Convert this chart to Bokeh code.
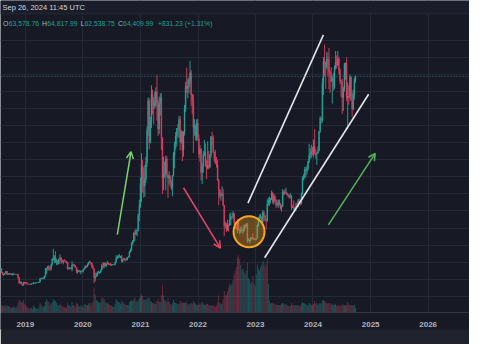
import numpy as np
import pandas as pd
from bokeh.plotting import figure
from bokeh.models import (Range1d, FixedTicker, DatetimeTickFormatter, Span, Arrow,
                          OpenHead, Label, BoxAnnotation, Grid, ColumnDataSource)
from bokeh.embed import file_html
from bokeh.resources import INLINE

# ---------------- data (weekly BTC/USD candles, prices in thousands USD) -------------
first_week = "2018-07-23"
first_open = 7.4

close_2018 = [8.2, 7.0, 6.3, 6.5, 6.7, 7.3, 6.4, 6.5, 6.7, 6.6, 6.3, 6.45, 6.4, 6.45, 6.4,
              6.4, 5.6, 4.0, 4.2, 3.6, 3.2, 4.0, 3.9, 4.05]
high_2018 = [8.5, 8.2, 7.15, 6.6, 6.9, 7.4, 7.4, 6.6, 6.8, 6.75, 6.65, 6.7, 6.9, 6.55, 6.5,
             6.55, 6.4, 5.6, 4.4, 4.3, 3.6, 4.2, 4.2, 4.1]
low_2018 = [7.3, 6.9, 6.2, 5.9, 6.3, 6.65, 6.3, 6.2, 6.2, 6.4, 6.2, 6.1, 6.35, 6.35, 6.3,
            6.35, 5.2, 3.55, 3.7, 3.4, 3.15, 3.2, 3.6, 3.7]

close_2019 = [3.6, 3.55, 3.55, 3.45, 3.65, 3.65, 3.85, 3.85, 3.95, 4.0, 4.0, 4.15, 5.2, 5.15,
              5.35, 5.2, 5.95, 8.0, 8.2, 8.75, 8.0, 7.95, 9.25, 10.8, 11.0, 11.4, 10.2, 10.5,
              9.5, 10.9, 11.3, 10.3, 10.1, 10.4, 10.35, 10.3, 10.0, 8.05, 8.2, 8.3, 7.95, 9.2,
              9.2, 8.75, 8.5, 7.3, 7.4, 7.5, 7.1, 7.3, 7.25, 7.75]
high_2019 = [4.1, 3.75, 3.65, 3.55, 3.7, 3.7, 4.2, 3.9, 3.95, 4.05, 4.1, 4.2, 5.3, 5.45, 5.4,
             5.6, 6.0, 8.3, 8.3, 8.9, 9.1, 8.1, 9.3, 11.2, 13.9, 12.0, 13.2, 11.0, 10.6, 11.0,
             12.3, 11.5, 10.9, 10.6, 10.9, 10.45, 10.3, 10.0, 8.5, 8.6, 8.4, 10.3, 9.5, 9.5,
             9.1, 8.5, 7.9, 7.65, 7.5, 7.5, 7.6, 7.8]
low_2019 = [3.5, 3.5, 3.45, 3.35, 3.35, 3.55, 3.65, 3.7, 3.7, 3.85, 3.9, 3.9, 4.1, 4.95, 5.0,
            5.0, 5.2, 5.7, 6.6, 7.5, 7.5, 7.45, 7.6, 8.95, 10.4, 9.7, 9.8, 9.1, 9.2, 9.4, 10.8,
            9.5, 9.8, 9.35, 10.2, 9.9, 9.6, 7.75, 7.9, 7.9, 7.9, 7.3, 9.0, 8.6, 8.4, 6.8, 6.6,
            7.1, 7.0, 6.4, 7.1, 6.9]

close_2020 = [8.2, 8.9, 8.6, 9.35, 9.9, 9.9, 9.7, 8.5, 8.0, 5.4, 5.8, 5.9, 6.8, 6.9, 7.1, 7.7,
              8.9, 8.7, 9.7, 8.9, 9.45, 9.75, 9.35, 9.3, 9.05, 9.3, 9.3, 9.2, 10.0, 11.1, 11.7,
              11.8, 11.65, 11.7, 10.3, 10.7, 11.1, 10.75, 10.65, 11.35, 11.5, 13.0, 13.8, 15.5,
              16.0, 18.4, 18.2, 19.1, 19.3, 23.8, 26.5, 33.0]
high_2020 = [8.45, 9.0, 8.9, 9.6, 10.1, 10.5, 10.2, 9.7, 9.2, 8.2, 6.9, 6.9, 7.3, 7.45, 7.2,
             7.8, 9.45, 10.0, 9.9, 9.9, 9.6, 10.4, 9.9, 9.6, 9.8, 9.3, 9.45, 9.3, 10.1, 12.0,
             11.9, 12.2, 12.4, 11.8, 12.1, 10.8, 11.2, 11.1, 10.95, 11.5, 11.7, 13.3, 14.0,
             15.9, 16.5, 18.8, 19.4, 19.9, 19.4, 24.2, 28.3, 34.8]
low_2020 = [7.7, 8.1, 8.3, 8.6, 9.2, 9.7, 9.3, 8.4, 8.0, 3.85, 4.4, 5.7, 5.9, 6.8, 6.5, 6.8,
            7.7, 8.1, 8.2, 8.7, 8.6, 9.3, 9.1, 9.2, 8.9, 8.9, 9.1, 9.1, 9.1, 9.9, 10.95, 11.1,
            11.3, 11.15, 9.9, 9.9, 10.6, 10.2, 10.4, 10.55, 11.2, 11.4, 12.8, 13.3, 15.0, 15.8,
            16.3, 18.0, 17.6, 19.0, 22.0, 25.9]

close_2021 = [38.2, 36.0, 32.3, 34.3, 39.2, 48.6, 57.4, 45.0, 51.2, 59.3, 57.5, 55.8, 57.1,
              59.9, 56.2, 49.0, 56.6, 58.2, 46.4, 34.7, 35.7, 35.8, 40.2, 35.6, 34.7, 35.3,
              33.5, 31.8, 35.4, 41.5, 44.6, 47.0, 49.2, 48.8, 51.8, 45.2, 48.3, 42.8, 48.2,
              54.9, 61.6, 60.9, 61.3, 63.3, 65.5, 59.0, 57.2, 49.4, 50.1, 46.7, 50.8, 46.4]
high_2021 = [41.9, 40.0, 37.8, 38.5, 40.9, 49.7, 58.3, 58.0, 52.6, 61.8, 60.6, 58.4, 60.0,
             61.2, 64.8, 57.5, 58.5, 59.5, 59.6, 46.6, 40.9, 39.5, 41.3, 41.0, 35.8, 36.6,
             35.4, 34.0, 35.4, 42.3, 45.3, 48.1, 49.3, 50.5, 52.9, 52.9, 48.8, 48.4, 48.3,
             56.1, 62.9, 67.0, 63.7, 64.3, 69.0, 66.3, 59.4, 59.2, 51.9, 50.3, 51.9, 52.0]
low_2021 = [27.7, 30.4, 28.9, 29.2, 33.3, 37.9, 47.0, 43.0, 44.9, 49.3, 53.3, 50.4, 54.9,
            55.5, 51.5, 47.0, 47.5, 53.0, 42.9, 30.0, 31.1, 34.8, 31.0, 34.8, 28.8, 32.7,
            32.1, 31.1, 29.3, 35.2, 37.5, 43.0, 43.9, 46.4, 46.5, 42.8, 44.7, 39.6, 40.9,
            47.1, 54.0, 59.6, 58.0, 59.5, 62.3, 55.7, 53.5, 42.0, 47.1, 45.7, 45.5, 45.6]

close_2022 = [41.8, 43.1, 36.3, 37.9, 41.4, 42.2, 38.4, 37.7, 38.4, 37.8, 41.3, 46.8, 46.4,
              42.2, 40.4, 39.5, 38.5, 34.1, 31.3, 29.4, 29.5, 29.9, 26.6, 20.6, 20.7, 19.3,
              20.9, 20.8, 22.6, 23.3, 23.2, 24.3, 21.5, 20.0, 19.8, 21.8, 19.4, 18.8, 19.3,
              19.1, 19.2, 20.8, 20.6, 21.2, 16.3, 16.3, 16.4, 17.1, 17.1, 16.8, 16.8, 16.6]
high_2022 = [47.5, 44.3, 43.5, 38.9, 42.6, 45.8, 44.8, 40.0, 45.4, 42.6, 41.7, 46.9, 48.2,
             47.2, 42.4, 42.9, 40.8, 40.0, 34.3, 31.3, 30.6, 32.2, 31.5, 26.8, 21.9, 21.5,
             22.4, 21.3, 24.2, 24.6, 23.6, 25.0, 24.4, 21.9, 20.5, 22.5, 22.6, 19.7, 20.4,
             20.5, 19.9, 21.0, 21.0, 21.4, 21.5, 17.0, 16.7, 17.4, 17.4, 18.4, 17.0, 16.9]
low_2022 = [40.6, 39.4, 34.0, 32.9, 36.2, 41.0, 38.0, 34.3, 37.2, 37.2, 37.6, 40.6, 44.2,
            41.9, 39.2, 38.7, 37.7, 33.8, 26.7, 28.7, 28.0, 29.3, 26.6, 17.6, 19.9, 18.8,
            19.3, 18.9, 20.7, 20.8, 22.6, 22.7, 20.8, 19.6, 19.6, 18.5, 19.3, 18.1, 18.5,
            19.1, 18.2, 18.9, 19.8, 20.1, 15.6, 16.2, 15.5, 16.0, 16.9, 16.6, 16.4, 16.4]

close_2023 = [17.1, 20.9, 22.7, 23.0, 23.3, 21.8, 24.6, 23.6, 22.4, 22.2, 26.9, 27.9, 28.2,
              28.3, 30.3, 27.6, 29.2, 28.4, 26.8, 26.8, 28.1, 27.1, 25.9, 26.3, 30.5, 30.6,
              30.2, 30.3, 29.8, 29.3, 29.0, 29.3, 26.1, 26.0, 25.8, 25.8, 26.5, 26.3, 28.0,
              27.9, 27.2, 30.0, 34.5, 35.0, 37.1, 36.6, 37.4, 39.5, 41.3, 41.9, 42.5, 42.3]
high_2023 = [17.2, 21.3, 23.3, 23.9, 24.2, 23.4, 25.2, 25.1, 23.9, 22.6, 28.4, 29.0, 29.2,
             28.8, 31.0, 30.5, 30.0, 29.8, 28.4, 27.6, 28.3, 28.4, 27.3, 26.8, 31.4, 31.0,
             31.4, 31.8, 30.4, 30.0, 29.8, 30.2, 29.7, 26.8, 28.1, 26.1, 27.4, 27.4, 28.5,
             28.6, 27.9, 30.4, 35.2, 35.9, 37.9, 37.9, 38.4, 39.7, 44.7, 43.4, 44.4, 43.8]
low_2023 = [16.5, 17.1, 20.4, 22.3, 22.6, 21.4, 21.5, 22.8, 21.9, 19.6, 21.9, 26.6, 26.5,
            27.2, 28.2, 27.1, 26.9, 27.7, 25.8, 26.3, 25.9, 26.5, 25.4, 24.8, 26.3, 29.6,
            29.8, 30.0, 29.5, 29.0, 28.6, 28.7, 25.3, 25.8, 25.3, 25.4, 24.9, 26.0, 26.1,
            27.2, 26.6, 26.9, 29.8, 33.9, 34.5, 34.8, 35.6, 36.9, 39.0, 40.2, 40.6, 41.3]

close_2024 = [43.9, 41.7, 41.6, 42.0, 42.6, 48.3, 52.1, 51.7, 62.4, 68.9, 68.4, 67.2, 69.6,
              69.4, 65.7, 64.9, 63.1, 63.9, 61.5, 66.9, 68.5, 67.8, 69.6, 66.2, 63.2, 62.7,
              58.2, 60.8, 68.2, 68.3, 58.1, 58.7, 58.4, 64.2, 57.3, 54.8, 59.1, 63.3, 64.4]
high_2024 = [45.9, 49.0, 43.2, 42.2, 43.9, 48.5, 52.8, 52.4, 64.0, 70.1, 73.8, 68.9, 71.7,
             71.3, 72.8, 66.4, 67.2, 64.7, 65.5, 67.7, 71.9, 70.6, 71.9, 70.2, 66.9, 63.4,
             63.8, 61.4, 68.4, 68.5, 70.0, 62.6, 61.8, 65.0, 64.5, 59.8, 60.6, 64.1, 64.8]
low_2024 = [40.7, 41.5, 40.3, 38.5, 41.8, 42.5, 47.9, 50.6, 50.9, 59.0, 64.6, 60.8, 66.5,
            64.5, 60.7, 59.6, 62.8, 56.5, 60.2, 60.7, 66.4, 66.7, 67.5, 65.1, 62.2, 58.4,
            53.5, 54.3, 60.0, 63.5, 57.2, 49.0, 56.1, 57.8, 57.2, 52.6, 54.6, 57.6, 62.6]

# weekly volume (thousand BTC)
volume_2018 = [260, 230, 230, 230, 200, 230, 260, 230, 200, 200, 165, 165, 230, 165, 165,
               200, 330, 460, 400, 360, 330, 430, 300, 260]
volume_2019 = [200, 165, 130, 165, 165, 130, 230, 200, 165, 130, 130, 165, 330, 260, 200,
               200, 230, 360, 460, 400, 360, 260, 300, 360, 460, 430, 400, 330, 260, 230,
               300, 260, 230, 200, 200, 165, 165, 330, 260, 230, 200, 360, 260, 230, 200,
               330, 300, 230, 200, 260, 200, 200]
volume_2020 = [260, 300, 230, 260, 300, 330, 260, 330, 360, 860, 600, 430, 400, 360, 330,
               360, 500, 530, 460, 360, 330, 330, 300, 260, 260, 230, 200, 200, 300, 460,
               400, 360, 330, 300, 400, 360, 300, 300, 260, 260, 260, 360, 400, 430, 400,
               460, 530, 400, 360, 430, 500, 560]
volume_2021 = [630, 560, 460, 430, 430, 500, 460, 530, 400, 360, 330, 330, 300, 300, 400,
               460, 360, 360, 600, 960, 600, 430, 400, 360, 500, 360, 300, 260, 330, 430,
               360, 330, 300, 300, 300, 400, 330, 360, 330, 330, 360, 330, 300, 260, 300,
               330, 300, 400, 330, 300, 260, 260]
volume_2022 = [300, 260, 330, 360, 300, 260, 260, 300, 300, 260, 230, 230, 260, 230, 230,
               200, 230, 360, 600, 330, 300, 300, 460, 730, 600, 600, 730, 860, 990, 920,
               990, 1120, 1320, 1450, 1580, 1910, 1980, 1850, 1650, 1450, 1520, 1390, 1320,
               1450, 1720, 1190, 1120, 990, 1060, 1250, 990, 920]
volume_2023 = [1320, 1650, 1520, 1450, 1580, 1650, 1780, 1720, 1580, 1650, 1820, 990, 400,
               300, 330, 330, 300, 260, 300, 260, 260, 260, 260, 300, 330, 300, 260, 300,
               260, 230, 230, 230, 330, 260, 260, 230, 260, 230, 260, 230, 230, 300, 360,
               330, 300, 300, 260, 260, 330, 300, 260, 260]
volume_2024 = [300, 400, 300, 330, 260, 300, 330, 300, 400, 430, 400, 360, 330, 300, 330,
               330, 260, 300, 260, 260, 300, 230, 230, 260, 230, 230, 300, 260, 260, 230,
               260, 360, 260, 260, 260, 260, 230, 260, 165]

year_ticks = [2019, 2020, 2021, 2022, 2023, 2024, 2025, 2026]
price_grid = [0, 5, 10, 15, 20, 25, 30, 35, 40, 45, 50, 55, 60, 65, 70, 75]
last_price = 64.40999

header_time = "Sep 26, 2024 11:45 UTC"
ohlc_letters = ["O", "H", "L", "C"]
ohlc_values = ["63,578.76", "64,817.99", "62,538.75", "64,409.99"]
change_text = "+831.23 (+1.31%)"

# hand-drawn annotations: (date, price in k USD)
arrow_up_1 = ("2020-08-07", 18.1, "2020-11-02", 42.4)
arrow_down = ("2021-10-01", 31.8, "2022-05-23", 14.1)
circle_mark = ("2022-11-21", 18.9)
channel_upper = ("2022-11-14", 27.3, "2024-03-07", 76.6)
channel_lower = ("2023-02-28", 11.3, "2024-12-19", 59.2)
arrow_up_2 = ("2024-04-08", 20.9, "2025-01-30", 41.9)

# ---------------- assemble -------------------------------------------------------
close = close_2018 + close_2019 + close_2020 + close_2021 + close_2022 + close_2023 + close_2024
high = high_2018 + high_2019 + high_2020 + high_2021 + high_2022 + high_2023 + high_2024
low = low_2018 + low_2019 + low_2020 + low_2021 + low_2022 + low_2023 + low_2024
volume = (volume_2018 + volume_2019 + volume_2020 + volume_2021 + volume_2022
          + volume_2023 + volume_2024)
opens = [first_open] + close[:-1]

weeks = pd.date_range(first_week, periods=len(close), freq="7D")
centers = weeks + pd.Timedelta(hours=84)

GREEN = "#26a69a"
RED = "#de3f62"
up = [c >= o for o, c in zip(opens, close)]
src = ColumnDataSource(dict(
    x=centers,
    top=[max(o, c) for o, c in zip(opens, close)],
    bottom=[min(o, c) for o, c in zip(opens, close)],
    high=high, low=low, vol=volume,
    color=[GREEN if u else RED for u in up],
))

def ms(d):
    return pd.Timestamp(d).value / 1e6

# layout geometry
W, H = 469, 344
FRAME_H = 312
sx, sy = W / 485.0, H / 360.0
ms_per_year = 365.25 * 86400000.0
x2019 = 25.7 * sx
ppy = 59.5 * sx
t2019 = ms("2019-01-01")
x_start = t2019 - x2019 / ppy * ms_per_year
x_end = t2019 + (W - x2019) / ppy * ms_per_year
P_top = 309.5 / 3.57
P_bot = (309.5 - FRAME_H / sy) / 3.57
V_top = FRAME_H * 33 / sy

def fx2ms(fx):
    return x_start + fx / W * (x_end - x_start)

def fy2p(fy):
    return P_top - fy / FRAME_H * (P_top - P_bot)

BG = "#171a25"
p = figure(width=W, height=H, x_axis_type="datetime", y_axis_location=None,
           x_range=Range1d(x_start, x_end), y_range=Range1d(P_bot, P_top),
           output_backend="svg", toolbar_location=None,
           min_border_left=0, min_border_right=0, min_border_top=0, min_border_bottom=H - FRAME_H,
           background_fill_color=BG, border_fill_color="#20232e")
p.outline_line_color = None
p.extra_y_ranges = {"vol": Range1d(0, V_top)}

# grid
GRID = "#252935"
p.xaxis.ticker = FixedTicker(ticks=[ms(f"{y}-01-01") for y in year_ticks])
p.xgrid.grid_line_color = GRID
for g in p.ygrid:
    g.visible = False
p.add_layout(Grid(dimension=1, ticker=FixedTicker(ticks=price_grid), grid_line_color=GRID))

fmt = "%Y"
p.xaxis.formatter = DatetimeTickFormatter(years=fmt, months=fmt, days=fmt, hours=fmt,
                                          hourmin=fmt, minutes=fmt, minsec=fmt, seconds=fmt,
                                          milliseconds=fmt, microseconds=fmt)
p.xaxis.axis_line_color = None
p.xaxis.major_tick_line_color = None
p.xaxis.minor_tick_line_color = None
p.xaxis.major_label_text_font_size = "8px"
p.xaxis.major_label_text_font = "Liberation Sans"
p.xaxis.major_label_text_font_style = "bold"
p.xaxis.major_label_text_color = "#b2b5be"
p.xaxis.major_label_standoff = 3
p.xaxis.background_fill_color = BG

# header band
p.add_layout(BoxAnnotation(bottom=fy2p(13.4), fill_color="#1b1e2a", fill_alpha=1.0,
                           line_color=None))
p.add_layout(Span(location=fy2p(13.4), dimension="width", line_color=GRID, line_width=1))

# volume
week_ms = 7 * 86400000
p.vbar(x="x", top="vol", bottom=0, width=week_ms * 0.85, source=src, y_range_name="vol",
       fill_color="color", line_color=None, fill_alpha=0.42)

# candles
p.segment(x0="x", y0="low", x1="x", y1="high", source=src, line_color="color",
          line_width=1, line_alpha=0.9)
p.vbar(x="x", top="top", bottom="bottom", width=week_ms * 0.7, source=src,
       fill_color="color", line_color="color", line_width=0.5, fill_alpha=0.9, line_alpha=0.9)

# current price line
p.add_layout(Span(location=last_price, dimension="width", line_color=GREEN,
                  line_dash="1 2", line_width=1, line_alpha=0.7))

# annotations
p.segment(x0=[pd.Timestamp(channel_upper[0]), pd.Timestamp(channel_lower[0])],
          y0=[channel_upper[1], channel_lower[1]],
          x1=[pd.Timestamp(channel_upper[2]), pd.Timestamp(channel_lower[2])],
          y1=[channel_upper[3], channel_lower[3]],
          line_color="#e6e6ea", line_width=1.6)

p.scatter(x=[pd.Timestamp(circle_mark[0])], y=[circle_mark[1]], size=31, marker="circle",
          fill_color="#e8961e", fill_alpha=0.38, line_color="#f5a623", line_width=2)

for (d0, p0, d1, p1), col in [(arrow_up_1, "#7dd36e"), (arrow_down, "#e5466b"),
                              (arrow_up_2, "#55b35a")]:
    p.add_layout(Arrow(end=OpenHead(size=7, line_color=col, line_width=1.5),
                       x_start=ms(d0), y_start=p0, x_end=ms(d1), y_end=p1,
                       line_color=col, line_width=1.5))

# header texts
def add_label(fx, fy, text, color, size="6.8px"):
    p.add_layout(Label(x=fx2ms(fx), y=fy2p(fy), text=text, text_color=color,
                       text_font_size=size, text_font="Liberation Sans",
                       text_baseline="middle", text_align="left"))

add_label(2, 7.4, header_time, "#d1d4dc", "7.5px")
letter_x = [2.5, 41.5, 80.0, 117.5]
value_x = [8.2, 46.8, 84.0, 122.6]
for lx, vx, letter, val in zip(letter_x, value_x, ohlc_letters, ohlc_values):
    add_label(lx, 22.9, letter, "#b2b5be")
    add_label(vx, 22.9, val, "#22a08f")
add_label(157.5, 22.9, change_text, "#22a08f")

open("out.html", "w").write(file_html(p, INLINE))
